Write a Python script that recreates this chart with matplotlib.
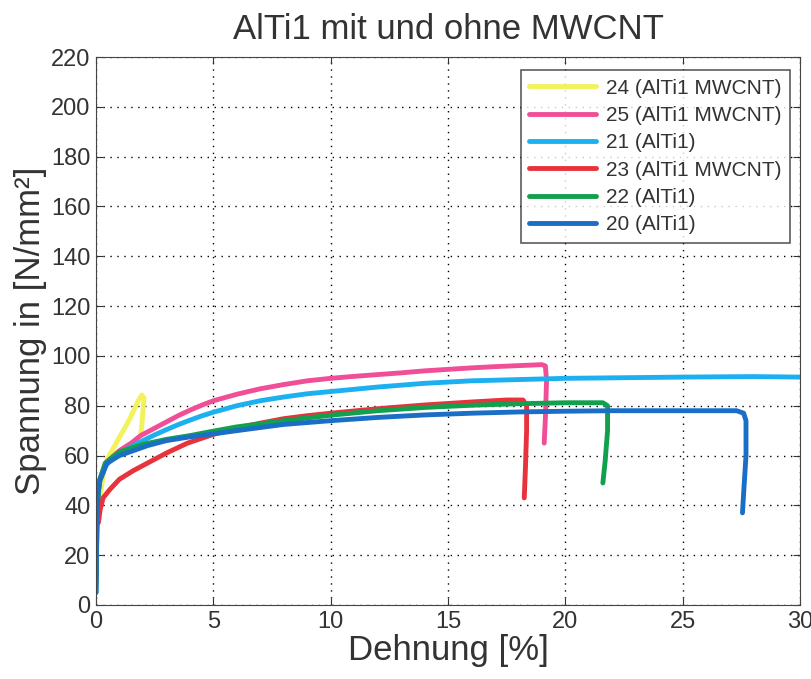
import numpy as np
import matplotlib.pyplot as plt

plt.rcParams['font.family'] = ['Liberation Sans', 'DejaVu Sans']

# Dehnung [%] / Spannung [N/mm^2]
x24 = [0.1, 0.2, 0.35, 0.5, 0.8, 1.1, 1.4, 1.6, 1.8, 1.95, 2.05, 2.0, 1.95, 1.9]
y24 = [35, 45, 55, 59, 64, 69, 74, 78, 82, 84.3, 83, 78, 72, 68]

x25 = [0.0, 0.05, 0.15, 0.4, 1.0, 1.5, 1.9, 2.5, 3.0, 3.5, 4.0, 4.5, 5.0, 6.0, 7.0, 8.0, 9.0,
       10.0, 11.0, 12.0, 13.0, 14.0, 15.0, 16.0, 17.0, 18.0, 19.0, 19.15, 19.2, 19.15, 19.1]
y25 = [10, 40, 50, 57, 62, 65, 68, 71, 73.5, 76, 78.2, 80.2, 82, 84.6, 86.8, 88.5, 90,
       91, 91.8, 92.5, 93.2, 94, 94.6, 95.2, 95.7, 96.1, 96.5, 96, 90, 75, 65]

x21 = [0.0, 0.05, 0.15, 0.4, 1.0, 1.5, 2.0, 2.5, 3.0, 3.5, 4.0, 4.5, 5.0, 6.0, 7.0, 8.0, 9.0,
       10.0, 12.0, 14.0, 16.0, 18.0, 20.0, 22.0, 25.0, 28.0, 30.0]
y21 = [5, 40, 50, 56, 61, 63.5, 66, 68.3, 70.4, 72.4, 74.2, 75.9, 77.4, 80, 82, 83.5, 84.8,
       85.7, 87.5, 89, 90, 90.5, 91, 91.2, 91.5, 91.7, 91.5]

x23 = [0.1, 0.17, 0.3, 0.6, 1.0, 1.6, 2.2, 3.0, 3.9, 5.0, 6.0, 7.0, 8.0, 9.0, 10.0, 12.0,
       14.0, 16.0, 17.5, 18.2, 18.35, 18.35, 18.3, 18.25]
y23 = [33, 38, 43, 46.5, 50.5, 54, 57, 61, 65, 68.5, 71, 73, 74.8, 76, 77, 78.8,
       80.3, 81.5, 82.3, 82.3, 80, 70, 55, 43]

x22 = [0.0, 0.05, 0.15, 0.4, 1.0, 2.0, 3.0, 4.0, 5.0, 6.0, 8.0, 10.0, 12.0, 14.0, 16.0,
       18.0, 20.0, 21.6, 21.8, 21.8, 21.7, 21.6]
y22 = [8, 40, 50, 57, 61.5, 64.5, 66.5, 68, 69.8, 71.5, 74, 76.2, 78, 79.3, 80.2,
       80.8, 81.2, 81.2, 80, 70, 58, 49]

x20 = [0.0, 0.03, 0.08, 0.17, 0.47, 1.0, 1.6, 2.2, 3.0, 4.0, 5.0, 6.0, 8.0, 10.0, 12.0,
       14.0, 16.0, 18.0, 20.0, 22.0, 25.0, 27.3, 27.6, 27.7, 27.7, 27.6, 27.55]
y20 = [5, 30, 45, 50, 57, 60, 62, 64, 66, 67.5, 68.7, 70, 72.5, 74, 75.3,
       76.3, 77, 77.5, 77.8, 78, 78, 78, 77, 74, 60, 45, 37]

series = [
    (x24, y24, '#f2f25a', '24 (AlTi1 MWCNT)'),
    (x25, y25, '#f04f98', '25 (AlTi1 MWCNT)'),
    (x21, y21, '#1cb0f0', '21 (AlTi1)'),
    (x23, y23, '#e8323c', '23 (AlTi1 MWCNT)'),
    (x22, y22, '#13a04e', '22 (AlTi1)'),
    (x20, y20, '#1b6ec6', '20 (AlTi1)'),
]

xticks = np.arange(0, 31, 5)
yticks = np.arange(0, 221, 20)

fig = plt.figure(figsize=(8.11, 6.79), dpi=100)
ax = fig.add_axes([0.1184, 0.109, 0.868, 0.807])

for xs, ys, c, lab in series:
    ax.plot(xs, ys, color=c, lw=3.5, label=lab, solid_capstyle='round', solid_joinstyle='round')

ax.set_xlim(0, 30)
ax.set_ylim(0, 220)
ax.set_xticks(xticks)
ax.set_yticks(yticks)
ax.grid(True, color='black', linestyle=(0, (1, 4)), linewidth=1.0)
ax.tick_params(direction='in', top=True, right=True, labelsize=17, colors='#333333',
               length=5, pad=4)
for s in ax.spines.values():
    s.set_color('#444444')

ax.set_title('AlTi1 mit und ohne MWCNT', fontsize=25, color='#333333', pad=13)
ax.set_xlabel('Dehnung [%]', fontsize=25, color='#333333', labelpad=1)
ax.set_ylabel('Spannung in [N/mm²]', fontsize=25, color='#333333', labelpad=3)

leg = ax.legend(loc='upper right', fontsize=15, frameon=True, fancybox=False,
                edgecolor='#333333', handlelength=3.2, handletextpad=0.5,
                borderpad=0.4, labelspacing=0.4, borderaxespad=0,
                bbox_to_anchor=(0.986, 0.976))
leg.get_frame().set_linewidth(1.2)
for t in leg.get_texts():
    t.set_color('#333333')

fig.savefig('out.png', dpi=100)
